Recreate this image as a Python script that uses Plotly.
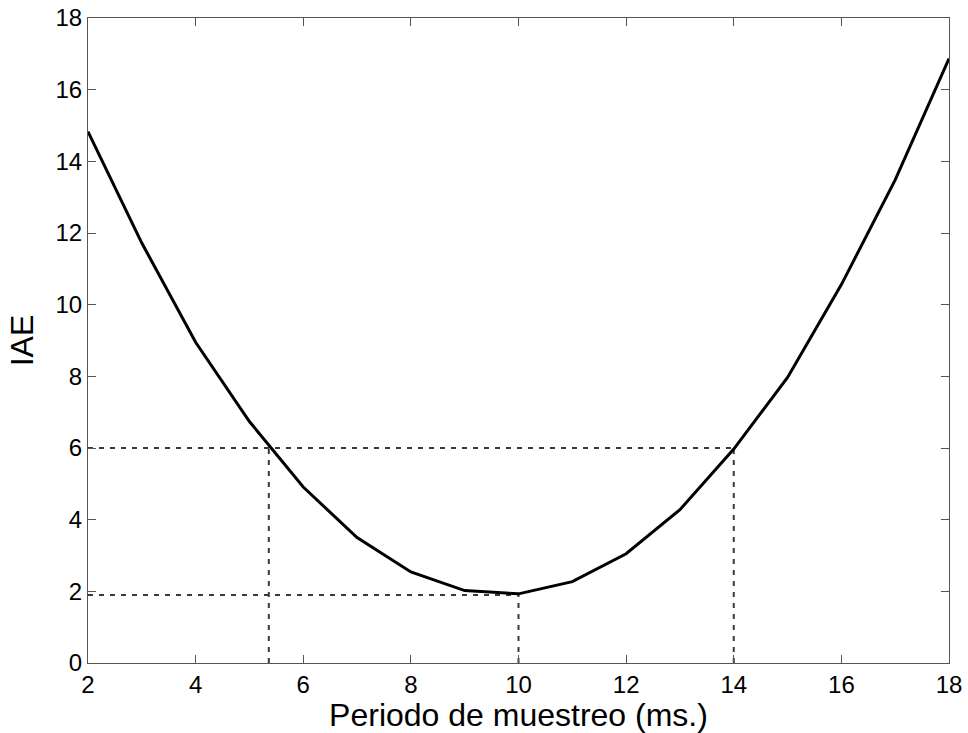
import plotly.graph_objects as go

# Data
periodo = [2, 3, 4, 5, 6, 7, 8, 9, 10, 11, 12, 13, 14, 15, 16, 17, 18]
iae = [14.83, 11.72, 8.95, 6.74, 4.91, 3.50, 2.54, 2.02, 1.93, 2.27,
       3.05, 4.28, 5.97, 7.97, 10.56, 13.48, 16.87]

umbral = 6.0          # horizontal guide level
x_izq = 5.36          # left crossing of the threshold
x_der = 14.0          # right crossing of the threshold
iae_min = 1.9         # minimum IAE level
x_min = 10.0          # period at the minimum

x_ticks = [2, 4, 6, 8, 10, 12, 14, 16, 18]
y_ticks = [0, 2, 4, 6, 8, 10, 12, 14, 16, 18]

font_fam = "Liberation Sans, Arial, Helvetica, sans-serif"
dash_style = dict(color="#3a3a3a", width=2, dash="5px,6px")

fig = go.Figure()

# guide lines (dashed)
fig.add_trace(go.Scatter(x=[periodo[0], x_der], y=[umbral, umbral], mode="lines",
                         line=dash_style, hoverinfo="skip", showlegend=False))
fig.add_trace(go.Scatter(x=[x_izq, x_izq], y=[0, umbral], mode="lines",
                         line=dash_style, hoverinfo="skip", showlegend=False))
fig.add_trace(go.Scatter(x=[x_der, x_der], y=[0, umbral], mode="lines",
                         line=dash_style, hoverinfo="skip", showlegend=False))
fig.add_trace(go.Scatter(x=[periodo[0], x_min], y=[iae_min, iae_min], mode="lines",
                         line=dash_style, hoverinfo="skip", showlegend=False))
fig.add_trace(go.Scatter(x=[x_min, x_min], y=[0, iae_min], mode="lines",
                         line=dash_style, hoverinfo="skip", showlegend=False))

# main curve
fig.add_trace(go.Scatter(x=periodo, y=iae, mode="lines",
                         line=dict(color="black", width=3), showlegend=False))

axis_common = dict(
    showgrid=False, zeroline=False,
    showline=True, linecolor="#555555", linewidth=1.2, mirror="ticks",
    ticks="inside", ticklen=8, tickwidth=1.2, tickcolor="#555555",
    tickfont=dict(family=font_fam, size=24, color="black"),
)

fig.update_xaxes(range=[2, 18], tickvals=x_ticks, **axis_common,
                 title=dict(text="Periodo de muestreo (ms.)", standoff=3,
                            font=dict(family=font_fam, size=32, color="black")))
fig.update_yaxes(range=[0, 18], tickvals=y_ticks, **axis_common,
                 title=dict(text="IAE", standoff=12,
                            font=dict(family=font_fam, size=32, color="black")))

fig.update_layout(
    width=968, height=733,
    margin=dict(l=88, r=19, t=18, b=70, autoexpand=False),
    paper_bgcolor="white", plot_bgcolor="white",
)

fig.write_html("out.html")
